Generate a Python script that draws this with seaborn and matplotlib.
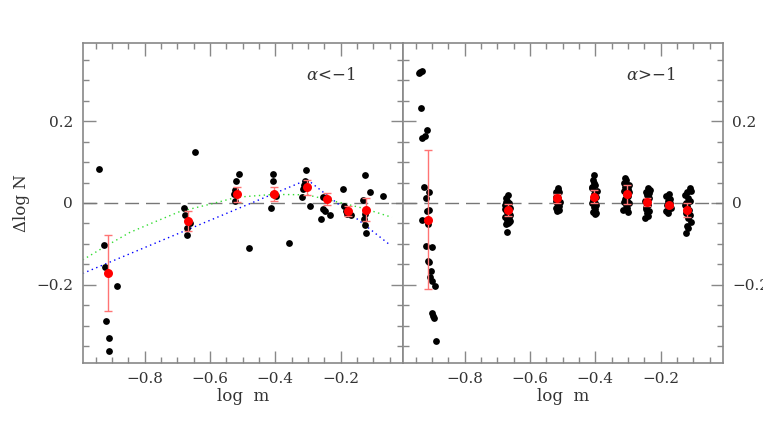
import numpy as np
import pandas as pd
import seaborn as sns
import matplotlib.pyplot as plt
from matplotlib.ticker import MultipleLocator, FixedLocator, FixedFormatter

# ---- left panel (alpha < -1): individual points ----
left_x = [-0.941, -0.925, -0.922, -0.884, -0.919, -0.908, -0.909, -0.647,
          -0.681, -0.677, -0.662, -0.672, -0.670,
          -0.512, -0.521, -0.523, -0.528, -0.524, -0.481,
          -0.406, -0.408, -0.408, -0.398, -0.413, -0.400, -0.359,
          -0.306, -0.309, -0.312, -0.314, -0.319, -0.294,
          -0.253, -0.255, -0.247, -0.234, -0.261, -0.192,
          -0.189, -0.184, -0.180, -0.169,
          -0.126, -0.111, -0.131, -0.127, -0.130, -0.125, -0.122, -0.071]
left_y = [0.084, -0.102, -0.156, -0.202, -0.288, -0.329, -0.362, 0.125,
          -0.011, -0.029, -0.048, -0.060, -0.078,
          0.070, 0.054, 0.032, 0.021, 0.004, -0.110,
          0.070, 0.054, 0.023, 0.018, -0.011, 0.020, -0.097,
          0.080, 0.053, 0.045, 0.034, 0.015, -0.008,
          0.015, -0.015, -0.019, -0.030, -0.038, 0.033,
          -0.008, -0.019, -0.027, -0.029,
          0.069, 0.027, 0.008, -0.027, -0.039, -0.054, -0.074, 0.016]

# left panel bin means and errors
left_mx = [-0.913, -0.669, -0.516, -0.405, -0.304, -0.243, -0.177, -0.121]
left_my = [-0.170, -0.044, 0.021, 0.022, 0.038, 0.009, -0.020, -0.016]
left_err = [0.093, 0.024, 0.018, 0.018, 0.019, 0.015, 0.012, 0.027]

# fitted curves (left panel)
blue_x = [-0.99, -0.302, -0.048]
blue_y = [-0.172, 0.057, -0.103]
green_x = [-0.99, -0.923, -0.846, -0.769, -0.693, -0.590, -0.519,
           -0.406, -0.304, -0.233, -0.130, -0.043]
green_y = [-0.139, -0.107, -0.072, -0.046, -0.021, -0.001, 0.014,
           0.021, 0.020, 0.007, -0.013, -0.035]

# ---- right panel (alpha > -1): individual points ----
right_x = [-0.941, -0.936, -0.930, -0.933, -0.917, -0.923, -0.930, -0.925,
           -0.911, -0.919, -0.909, -0.916, -0.931, -0.913, -0.918, -0.901,
           -0.913, -0.908, -0.903, -0.905, -0.899, -0.891, -0.901, -0.897,
           -0.895, -0.887,
           -0.668, -0.675, -0.672, -0.664, -0.677, -0.667, -0.662, -0.674,
           -0.670, -0.660, -0.676, -0.665, -0.672, -0.661, -0.669, -0.675,
           -0.663, -0.666, -0.678, -0.670, -0.673,
           -0.513, -0.522, -0.510, -0.519, -0.514, -0.522, -0.509, -0.517,
           -0.520, -0.512, -0.518, -0.511, -0.521, -0.515,
           -0.405, -0.407, -0.401, -0.410, -0.396, -0.404, -0.399, -0.408,
           -0.402, -0.409, -0.397, -0.404, -0.400, -0.406, -0.398, -0.403,
           -0.411, -0.401,
           -0.310, -0.305, -0.313, -0.298, -0.308, -0.301, -0.312, -0.296,
           -0.306, -0.300, -0.309, -0.303, -0.311, -0.297, -0.307, -0.302,
           -0.314, -0.299, -0.305,
           -0.238, -0.233, -0.245, -0.241, -0.236, -0.247, -0.243, -0.239,
           -0.244, -0.246, -0.235, -0.242, -0.240, -0.248, -0.237,
           -0.176, -0.183, -0.170, -0.179, -0.172, -0.181, -0.174, -0.168,
           -0.177, -0.184, -0.171, -0.178, -0.175,
           -0.111, -0.106, -0.120, -0.125, -0.116, -0.110, -0.123, -0.118,
           -0.113, -0.122, -0.117, -0.108, -0.120, -0.115, -0.121, -0.110,
           -0.124]
right_y = [0.317, 0.320, 0.323, 0.231, 0.178, 0.164, 0.159, 0.038,
           0.028, 0.013, -0.016, -0.019, -0.041, -0.052, -0.106, -0.108,
           -0.141, -0.145, -0.165, -0.180, -0.190, -0.202, -0.268, -0.275,
           -0.281, -0.338,
           0.020, 0.011, 0.005, -0.001, -0.004, -0.008, -0.012, -0.017,
           -0.022, -0.029, -0.033, -0.038, -0.042, -0.043, -0.050, -0.052,
           -0.047, -0.026, -0.015, -0.070, 0.002,
           0.036, 0.028, 0.026, 0.020, 0.011, 0.006, 0.002, -0.001,
           -0.013, -0.016, -0.020, -0.008, 0.015, 0.031,
           0.068, 0.056, 0.045, 0.036, 0.030, 0.022, 0.015, 0.008,
           0.001, -0.001, -0.005, -0.009, -0.015, -0.021, -0.025, 0.050,
           0.040, -0.028,
           0.060, 0.056, 0.050, 0.044, 0.040, 0.035, 0.030, 0.026,
           0.021, 0.016, 0.010, 0.005, 0.003, -0.001, -0.006, -0.012,
           -0.018, -0.023, 0.047,
           0.036, 0.032, 0.028, 0.020, 0.012, 0.006, 0.002, -0.004,
           -0.009, -0.015, -0.020, -0.025, -0.031, -0.037, 0.024,
           0.022, 0.016, 0.010, 0.004, 0.000, -0.004, -0.008, -0.012,
           -0.016, -0.020, -0.010, -0.024, 0.008,
           0.036, 0.030, 0.028, 0.020, 0.012, 0.006, 0.000, -0.008,
           -0.017, -0.025, -0.037, -0.046, -0.055, -0.062, -0.073, -0.030,
           -0.004]

right_mx = [-0.913, -0.669, -0.516, -0.403, -0.304, -0.242, -0.176, -0.120]
right_my = [-0.041, -0.017, 0.011, 0.015, 0.021, 0.002, -0.006, -0.017]
right_err = [0.170, 0.015, 0.010, 0.016, 0.023, 0.010, 0.004, 0.016]

y_ticks = [-0.2, 0.0, 0.2]
y_tick_labels = ['\u22120.2', '0', '0.2']
x_ticks = [-0.8, -0.6, -0.4, -0.2]
x_tick_labels = ['\u22120.8', '\u22120.6', '\u22120.4', '\u22120.2']

sns.set_style('ticks')
plt.rcParams['font.family'] = ['DejaVu Serif']
plt.rcParams['mathtext.fontset'] = 'dejavuserif'

grey = '#888888'
text_col = '#333333'
font = 11

fig = plt.figure(figsize=(7.63, 4.44), dpi=100)
ax1 = fig.add_axes([0.1084, 0.1831, 0.4194, 0.7194])
ax2 = fig.add_axes([0.5278, 0.1831, 0.4194, 0.7194])


def draw_panel(ax, px, py, mx, my, err, label):
    ax.axhline(0, color='#777777', lw=1, dashes=(10, 5), zorder=1)
    sns.scatterplot(x=px, y=py, ax=ax, color='black', s=24, linewidth=0, zorder=3)
    ax.errorbar(mx, my, yerr=err, fmt='none', ecolor='#ff7474', elinewidth=1,
                capsize=3, capthick=1, zorder=4)
    sns.scatterplot(x=mx, y=my, ax=ax, color='red', s=42, linewidth=0, zorder=5)
    ax.set_xlim(-0.99, -0.01)
    ax.set_ylim(-0.39, 0.39)
    ax.xaxis.set_major_locator(FixedLocator(x_ticks))
    ax.xaxis.set_major_formatter(FixedFormatter(x_tick_labels))
    ax.xaxis.set_minor_locator(MultipleLocator(0.05))
    ax.yaxis.set_major_locator(FixedLocator(y_ticks))
    ax.yaxis.set_major_formatter(FixedFormatter(y_tick_labels))
    ax.yaxis.set_minor_locator(MultipleLocator(0.05))
    ax.tick_params(which='both', direction='in', top=True, right=True,
                   color=grey, labelcolor=text_col, labelsize=font, width=1)
    ax.tick_params(which='major', length=9, pad=7)
    ax.tick_params(which='minor', length=4.5)
    for sp in ax.spines.values():
        sp.set_color(grey)
        sp.set_linewidth(1.2)
    ax.set_xlabel('')
    ax.set_ylabel('')
    ax.text(0.776, 0.90, label, transform=ax.transAxes, ha='center', va='center',
            fontsize=font + 1, color=text_col)


# blue and green fits in the left panel
sns.lineplot(x=blue_x, y=blue_y, ax=ax1, color='blue', lw=1, linestyle=(0, (1, 2.5)),
             estimator=None, sort=False, zorder=2)
sns.lineplot(x=green_x, y=green_y, ax=ax1, color='#33dd33', lw=1, linestyle=(0, (1, 2.5)),
             estimator=None, sort=False, zorder=2)

draw_panel(ax1, left_x, left_y, left_mx, left_my, left_err, '$\\alpha$<\u22121')
draw_panel(ax2, right_x, right_y, right_mx, right_my, right_err, '$\\alpha$>\u22121')
ax2.tick_params(which='both', labelleft=False, labelright=True)

fig.text(22 / 763, 1 - 203 / 444, '\u0394log N', rotation=90, ha='center', va='center',
         fontsize=font + 1, color=text_col)
fig.text(242.7 / 763, 1 - 401 / 444, 'log  m', ha='center', va='baseline',
         fontsize=font + 1, color=text_col)
fig.text(562.7 / 763, 1 - 401 / 444, 'log  m', ha='center', va='baseline',
         fontsize=font + 1, color=text_col)

plt.savefig('out.png', dpi=100)
